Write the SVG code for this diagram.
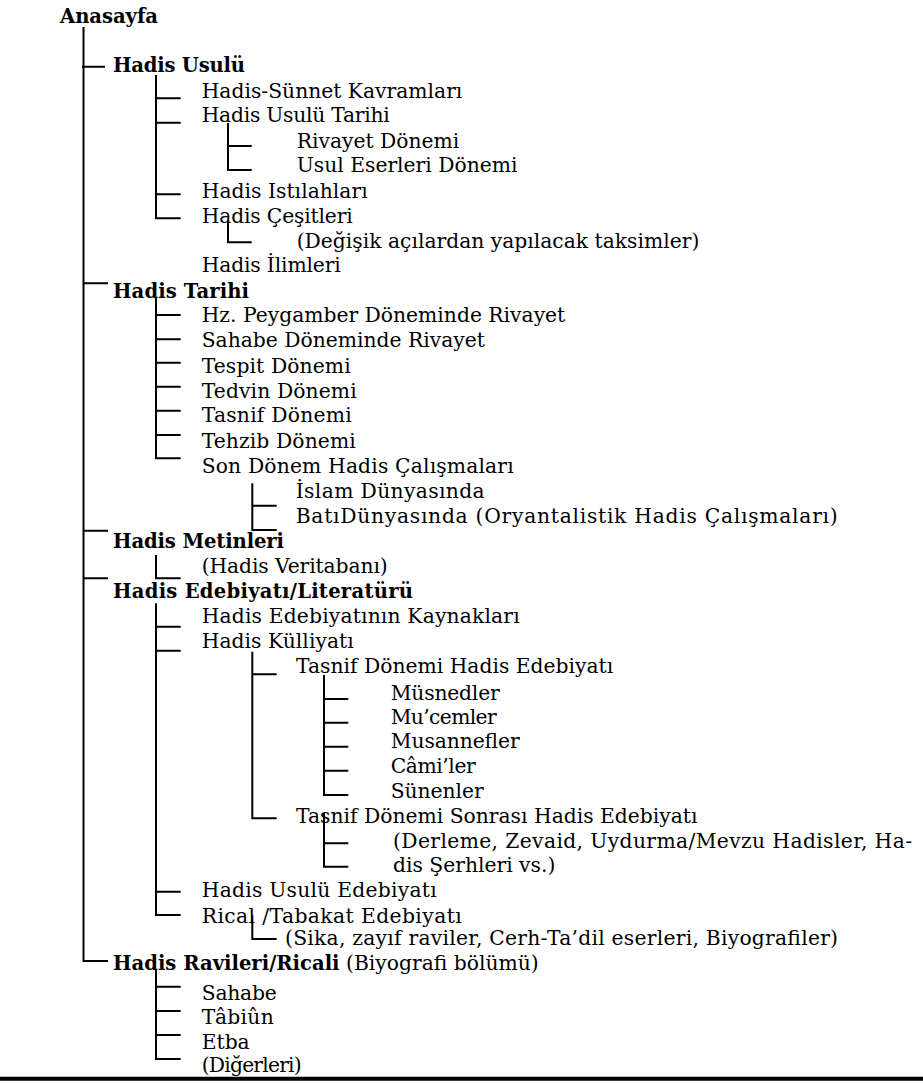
<svg xmlns="http://www.w3.org/2000/svg" width="923" height="1084" viewBox="0 0 923 1084">
<style>
text{font-family:"DejaVu Serif","Liberation Serif",serif;font-size:20.3px;fill:#000}
.b{font-weight:bold;font-size:19.6px}
.c{fill:none;stroke:#000;stroke-width:2}
</style>
<rect width="923" height="1084" fill="#fff"/>
<g id="connectors">
<path class="c" d="M83.5,27 V961 H108 M82,66.7 H105 M83.5,283.3 H108 M83.5,530.7 H108 M83.5,578.3 H108"/>
<path class="c" d="M156,75 V218.3 H180.7 M156,98.3 H180.7 M156,122.7 H180.7 M156,194.3 H180.7"/>
<path class="c" d="M228,123 V170 H251.7 M228,146 H251.7"/>
<path class="c" d="M228,220 V242.3 H251.7"/>
<path class="c" d="M156,296.7 V458.3 H180.7 M156,315 H180.7 M156,339.3 H180.7 M156,362.7 H180.7 M156,386.7 H180.7 M156,410.7 H180.7 M156,435 H180.7"/>
<path class="c" d="M252.3,483.3 V530 H276.7 M252.3,505.7 H276.7"/>
<path class="c" d="M156,555 V578.3 H180.7"/>
<path class="c" d="M156,603.3 V915 H180.7 M156,626.7 H180.7 M156,650.7 H180.7 M156,891.7 H180.7"/>
<path class="c" d="M252.3,651.7 V818.3 H276.7 M252.3,674.3 H276.7"/>
<path class="c" d="M324,675 V795 H348.3 M324,699 H348.3 M324,722.7 H348.3 M324,746.7 H348.3 M324,770.7 H348.3"/>
<path class="c" d="M324,813 V866.7 H348.3 M324,843.3 H348.3"/>
<path class="c" d="M252.3,915 V939 H276.7"/>
<path class="c" d="M156,970 V1059 H180.7 M156,986.7 H180.7 M156,1011 H180.7 M156,1035 H180.7"/>
<line x1="0" y1="1078.7" x2="923" y2="1078.7" stroke="#000" stroke-width="4"/>
</g>
<g id="n-anasayfa"><text class="b" x="60" y="23" textLength="98">Anasayfa</text></g>
<g id="n-usul"><text class="b" x="113" y="71.7" textLength="132">Hadis Usulü</text></g>
<g id="n-sunnet"><text x="201.7" y="97.7">Hadis-Sünnet Kavramları</text></g>
<g id="n-usultarihi"><text x="201.7" y="121.7" textLength="188">Hadis Usulü Tarihi</text></g>
<g id="n-rivayet"><text x="296.7" y="148.3">Rivayet Dönemi</text></g>
<g id="n-eserler"><text x="296.7" y="171.7">Usul Eserleri Dönemi</text></g>
<g id="n-istilah"><text x="201.7" y="198.3" textLength="166">Hadis Istılahları</text></g>
<g id="n-cesit"><text x="201.7" y="223.3" textLength="151">Hadis Çeşitleri</text></g>
<g id="n-degisik"><text x="296.7" y="248.3">(Değişik açılardan yapılacak taksimler)</text></g>
<g id="n-ilimler"><text x="201.7" y="272.3" textLength="139">Hadis İlimleri</text></g>
<g id="n-tarih"><text class="b" x="113" y="297.7" textLength="136">Hadis Tarihi</text></g>
<g id="n-hz"><text x="201.7" y="321.7">Hz. Peygamber Döneminde Rivayet</text></g>
<g id="n-sahabe-d"><text x="201.7" y="346.7">Sahabe Döneminde Rivayet</text></g>
<g id="n-tespit"><text x="201.7" y="372.7" textLength="149">Tespit Dönemi</text></g>
<g id="n-tedvin"><text x="201.7" y="398.3" textLength="155">Tedvin Dönemi</text></g>
<g id="n-tasnif"><text x="201.7" y="422.3" textLength="150">Tasnif Dönemi</text></g>
<g id="n-tehzib"><text x="201.7" y="448.3" textLength="154">Tehzib Dönemi</text></g>
<g id="n-son"><text x="201.7" y="473.3" textLength="312">Son Dönem Hadis Çalışmaları</text></g>
<g id="n-islam"><text x="295.7" y="498.3" textLength="189">İslam Dünyasında</text></g>
<g id="n-bati"><text x="295.7" y="523.3" textLength="542">BatıDünyasında (Oryantalistik Hadis Çalışmaları)</text></g>
<g id="n-metin"><text class="b" x="113" y="548.3" textLength="171">Hadis Metinleri</text></g>
<g id="n-veritabani"><text x="201.7" y="573.3" textLength="186">(Hadis Veritabanı)</text></g>
<g id="n-edebiyat"><text class="b" x="113" y="598.3" textLength="300">Hadis Edebiyatı/Literatürü</text></g>
<g id="n-kaynak"><text x="201.7" y="623.3" textLength="318">Hadis Edebiyatının Kaynakları</text></g>
<g id="n-kulliyat"><text x="201.7" y="647.7" textLength="152">Hadis Külliyatı</text></g>
<g id="n-tasnif-ed"><text x="296" y="673.3">Tasnif Dönemi Hadis Edebiyatı</text></g>
<g id="n-musned"><text x="390.7" y="700" textLength="109">Müsnedler</text></g>
<g id="n-mucem"><text x="390.7" y="724" textLength="106">Mu’cemler</text></g>
<g id="n-musannef"><text x="390.7" y="748.3" textLength="129">Musannefler</text></g>
<g id="n-cami"><text x="390.7" y="773.3" textLength="85">Câmi’ler</text></g>
<g id="n-sunen"><text x="390.7" y="798.3" textLength="93">Sünenler</text></g>
<g id="n-sonrasi"><text x="296" y="823.3">Tasnif Dönemi Sonrası Hadis Edebiyatı</text></g>
<g id="n-derleme"><text x="393" y="848.3" textLength="519" lengthAdjust="spacing">(Derleme,  Zevaid, Uydurma/Mevzu Hadisler, Ha-</text><text x="393" y="871.7">dis Şerhleri vs.)</text></g>
<g id="n-usul-ed"><text x="201.7" y="897.3" textLength="235">Hadis Usulü Edebiyatı</text></g>
<g id="n-rical"><text x="201.7" y="923.3" textLength="260">Rical /Tabakat Edebiyatı</text></g>
<g id="n-sika"><text x="285" y="945" textLength="553">(Sika, zayıf raviler, Cerh-Ta’dil eserleri, Biyografiler)</text></g>
<g id="n-ravi"><text x="113" y="970"><tspan class="b">Hadis Ravileri/Ricali</tspan> (Biyografi bölümü)</text></g>
<g id="n-sahabe"><text x="201.7" y="1000" textLength="75">Sahabe</text></g>
<g id="n-tabiun"><text x="201.7" y="1024.3" textLength="72">Tâbiûn</text></g>
<g id="n-etba"><text x="201.7" y="1049.3" textLength="48">Etba</text></g>
<g id="n-diger"><text x="201.7" y="1071.7" textLength="100">(Diğerleri)</text></g>
</svg>
